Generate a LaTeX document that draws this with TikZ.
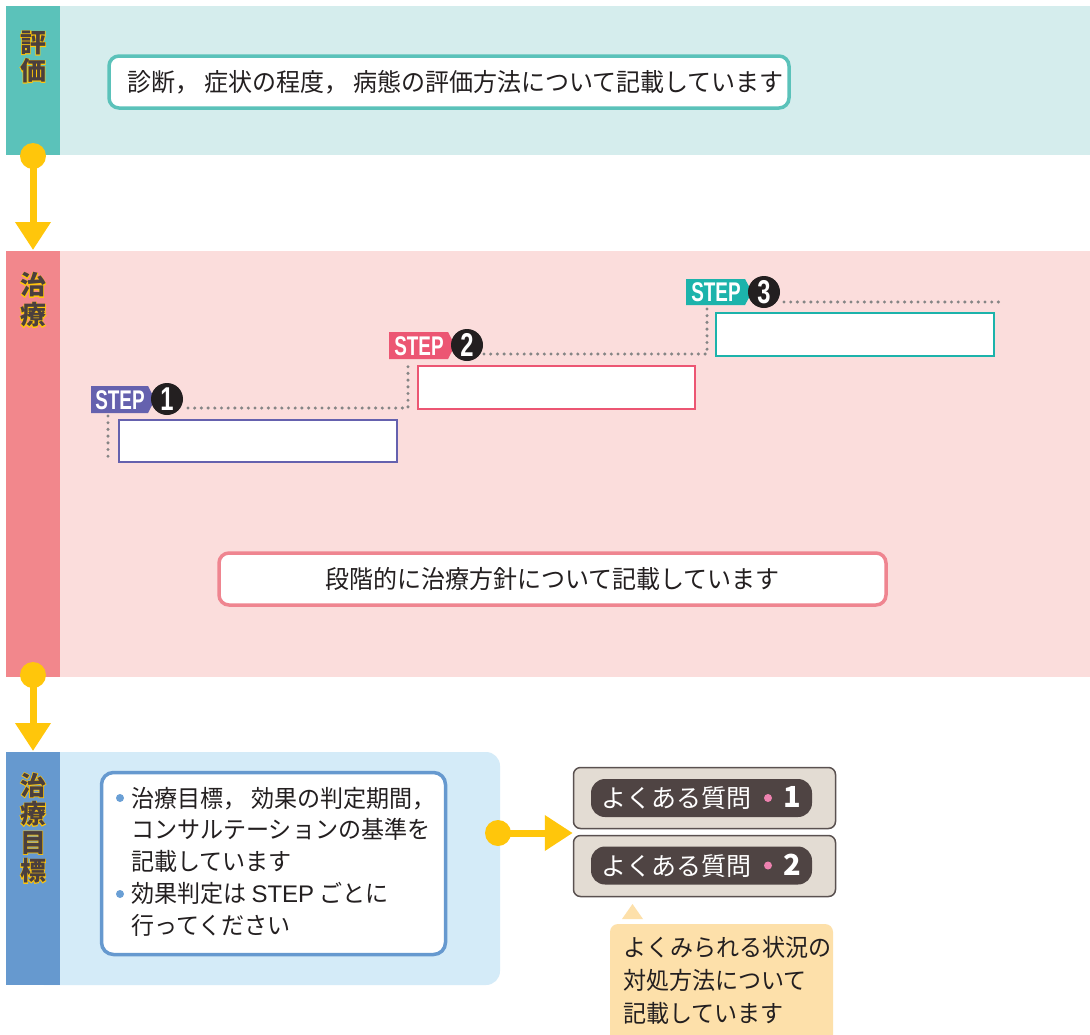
\documentclass[tikz,border=0pt]{standalone}
\usepackage{fontspec}
\usepackage{graphicx}
\usetikzlibrary{arrows.meta}
\setmainfont{Liberation Sans}
\newfontfamily\jp{Noto Sans CJK JP}[FakeStretch=0.96]
\newfontfamily\jpn{Noto Sans CJK JP}
\newfontfamily\jpfat{Noto Sans CJK JP}[FakeBold=5]
\definecolor{tealbar}{HTML}{5BC2BA}
\definecolor{tealbg}{HTML}{D5EDED}
\definecolor{pinkbar}{HTML}{F2878C}
\definecolor{pinkbg}{HTML}{FBDDDC}
\definecolor{bluebar}{HTML}{6699CF}
\definecolor{bluebg}{HTML}{D4EBF8}
\definecolor{yel}{HTML}{FFC60B}
\definecolor{txt}{HTML}{231F20}
\definecolor{labtxt}{HTML}{4A3F3E}
\definecolor{sone}{HTML}{6561AE}
\definecolor{stwo}{HTML}{EC5673}
\definecolor{sthree}{HTML}{1CB3AB}
\definecolor{hoshin}{HTML}{EF8590}
\definecolor{faqbg}{HTML}{E3DCD3}
\definecolor{faqline}{HTML}{5A5150}
\definecolor{pill}{HTML}{4F4443}
\definecolor{pinkdot}{HTML}{EE82B0}
\definecolor{note}{HTML}{FDE0AA}
\definecolor{dotgray}{HTML}{858585}
\definecolor{bulblue}{HTML}{6A9FD5}
\newcommand\jcomma{，\hspace{5pt}}
\begin{document}
\begin{tikzpicture}[x=1pt,y=-1pt,
  vlab/.style={align=center, inner sep=0pt, text=labtxt, font=\jpn\bfseries\fontsize{26}{#1}\selectfont},
  vglow/.style={align=center, inner sep=0pt, text=yel, font=\jpfat\bfseries\fontsize{26}{#1}\selectfont},
  maintext/.style={inner sep=0pt, text=txt, font=\jp\fontsize{25}{30}\selectfont},
  roundbox/.style={draw, fill=white, rounded corners=10pt, line width=3.5pt, inner sep=0pt},
  stepbox/.style={draw, fill=white, line width=2pt},
  steptag/.style={text=white, inner sep=0pt, font=\bfseries\fontsize{27}{27}\selectfont},
  numcirc/.style={circle, fill=txt, text=white, inner sep=0pt, minimum size=32pt, font=\bfseries\fontsize{33}{33}\selectfont},
  dotline/.style={dotgray, line width=3.4pt, line cap=round, dash pattern=on 0pt off 6.7pt},
  ydot/.style={circle, fill=yel, inner sep=0pt, minimum size=26pt},
  yline/.style={yel, line width=7pt, -{Triangle[width=34pt,length=28pt]}},
  faqbox/.style={draw=faqline, fill=faqbg, line width=1.5pt, rounded corners=7pt, minimum width=262pt, minimum height=61pt, inner sep=0pt},
  pillbox/.style={fill=pill, rounded corners=14pt, minimum width=221pt, minimum height=38pt, inner sep=0pt, text=white},
  bul/.style={circle, fill=bulblue, inner sep=0pt, minimum size=8pt},
  pbul/.style={circle, fill=pinkdot, inner sep=0pt, minimum size=8pt}
]
\useasboundingbox (0,0) rectangle (1090,1034);
\fill[white] (0,0) rectangle (1090,1034);

% ---- bands
\fill[tealbg] (60,6) rectangle (1090,155);
\fill[tealbar] (6,6) rectangle (60,155);
\fill[pinkbg] (60,251) rectangle (1090,677);
\fill[pinkbar] (6,251) rectangle (60,677);
\fill[bluebg, rounded corners=14pt] (30,752) rectangle (500,985);
\fill[bluebar] (6,752) rectangle (60,985);

% ---- vertical labels
\node[vglow=28pt] (lab1g) at (33,57) {評\\価};
\node[vlab=28pt] (lab1) at (33,57) {評\\価};
\node[vglow=30pt] (lab2g) at (33,300) {治\\療};
\node[vlab=30pt] (lab2) at (33,300) {治\\療};
\node[vglow=28.5pt] (lab3g) at (33,828) {治\\療\\目\\標};
\node[vlab=28.5pt] (lab3) at (33,828) {治\\療\\目\\標};

% ---- evaluation box
\node[roundbox, draw=tealbar, minimum width=680pt, minimum height=52pt] (evalbox) at (449,82) {};
\node[maintext, anchor=west] (evaltext) at (127,82) {診断\jcomma 症状の程度\jcomma 病態の評価方法について記載しています};

% ---- steps
\node[stepbox, draw=sone, minimum width=278pt, minimum height=42pt] (box1) at (258,441) {};
\node[stepbox, draw=stwo, minimum width=277pt, minimum height=43pt] (box2) at (556.5,387.5) {};
\node[stepbox, draw=sthree, minimum width=278pt, minimum height=43pt] (box3) at (855,334.5) {};

\fill[sone] (91,386) -- (148,386) -- (155,399.5) -- (148,413) -- (91,413) -- cycle;
\fill[stwo] (389,332) -- (448,332) -- (455,345.5) -- (448,359) -- (389,359) -- cycle;
\fill[sthree] (686,279) -- (745,279) -- (752,292) -- (745,305) -- (686,305) -- cycle;
\node[steptag] (tag1) at (120,400) {\scalebox{0.7}[1]{STEP}};
\node[steptag] (tag2) at (419,346) {\scalebox{0.7}[1]{STEP}};
\node[steptag] (tag3) at (716,292.5) {\scalebox{0.7}[1]{STEP}};
\node[numcirc] (num1) at (167,399) {\scalebox{0.72}[1]{1}};
\node[numcirc] (num2) at (467,345) {\scalebox{0.72}[1]{2}};
\node[numcirc] (num3) at (764,292) {\scalebox{0.72}[1]{3}};

\coordinate (d1a) at (108,416);
\coordinate (d1b) at (108,462);
\coordinate (d2a) at (188,408);
\coordinate (d2c) at (408,408);
\coordinate (d2b) at (408,363);
\coordinate (d3a) at (484,354);
\coordinate (d3c) at (707,354);
\coordinate (d3b) at (707,309);
\coordinate (d4a) at (784,302);
\coordinate (d4b) at (1005,302);
\draw[dotline] (d1a) -- (d1b);
\draw[dotline] (d2a) -- (d2c) -- (d2b);
\draw[dotline] (d3a) -- (d3c) -- (d3b);
\draw[dotline] (d4a) -- (d4b);

\node[roundbox, draw=hoshin, minimum width=667pt, minimum height=52pt, font=\jp\fontsize{25}{30}\selectfont, text=txt] (hoshinbox) at (552.5,579) {段階的に治療方針について記載しています};

% ---- goal box
\node[roundbox, draw=bluebar, minimum width=344pt, minimum height=182pt, rounded corners=12pt] (goalbox) at (273.5,863.5) {};
\node[maintext, anchor=west, align=left, font=\jp\fontsize{24}{31.75}\selectfont] (goaltext) at (131,861.5) {治療目標\jcomma 効果の判定期間，\\コンサルテーションの基準を\\記載しています\\効果判定は {\fontspec{Liberation Sans}STEP} ごとに\\行ってください};
\node[bul] (bul1) at (120,798) {};
\node[bul] (bul2) at (120,894) {};

% ---- yellow connectors
\node[ydot] (c1) at (33,156) {};
\coordinate (a1) at (33,250);
\draw[yline] (c1.center) -- (a1);
\node[ydot] (c2) at (33,675) {};
\coordinate (a2) at (33,751);
\draw[yline] (c2.center) -- (a2);

% ---- FAQ
\node[faqbox] (faq1) at (704.5,798) {};
\node[faqbox] (faq2) at (704.5,866) {};
\node[pillbox] (pill1) at (701.5,798) {\jpn\fontsize{25}{25}\selectfont よくある質問\hspace{32pt}{\fontsize{29}{29}\selectfont\bfseries 1}};
\node[pillbox] (pill2) at (701.5,865.5) {\jpn\fontsize{25}{25}\selectfont よくある質問\hspace{32pt}{\fontsize{29}{29}\selectfont\bfseries 2}};
\node[pbul] (pb1) at (768,798) {};
\node[pbul] (pb2) at (768,865.5) {};

\node[ydot] (c3) at (498,833) {};
\draw[yline] (c3.center) -- (faq1.south west |- c3);

% ---- note
\fill[note] (622,919) -- (643,919) -- (632.5,904) -- cycle;
\begin{scope}
\clip (0,0) rectangle (1090,1034);
\fill[note, rounded corners=8pt] (610,924) rectangle (833,1060);
\end{scope}
\node[maintext, anchor=west, align=left, font=\jp\fontsize{24}{33}\selectfont] (notetext) at (623,980) {よくみられる状況の\\対処方法について\\記載しています};
\end{tikzpicture}
\end{document}
